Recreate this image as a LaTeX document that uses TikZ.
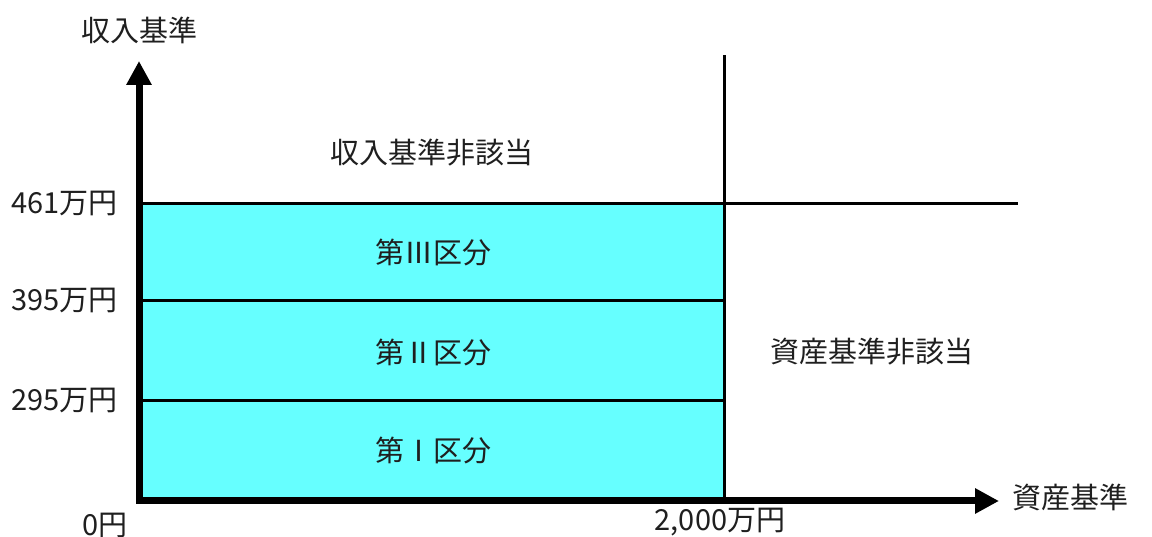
\documentclass[tikz,border=0pt]{standalone}
\usepackage{fontspec}
\setmainfont{Noto Sans CJK JP}
\usetikzlibrary{arrows.meta}

\begin{document}
\begin{tikzpicture}[x=1pt,y=1pt,
	every node/.style={font=\fontsize{29}{32}\selectfont,text=black!88,inner sep=0pt},
	axisline/.style={line width=7pt,-{Triangle[width=24pt,length=24pt]}},
	bandline/.style={line width=3pt}]
	\tikzset{bandfill/.style={fill={rgb,255:red,102;green,255;blue,255}}}
	\useasboundingbox (0,0) rectangle (1152,537);
	% coordinates of the grid
	\coordinate (origin) at (136,36);
	\coordinate (xtip) at (999,36);
	\coordinate (ybot) at (139,33);
	\coordinate (ytip) at (139,476);
	\coordinate (boxll) at (143,37);
	\coordinate (boxur) at (724,333);
	\coordinate (vtop) at (724,482);
	\coordinate (vbot) at (724,37);
	\coordinate (l461a) at (143,333);
	\coordinate (l461b) at (1018,333);
	\coordinate (l395a) at (143,236);
	\coordinate (l395b) at (724,236);
	\coordinate (l295a) at (143,136);
	\coordinate (l295b) at (724,136);
	% bands
	\path[bandfill] (boxll) rectangle (boxur);
	\draw[bandline] (l461a) -- (l461b);
	\draw[bandline] (l395a) -- (l395b);
	\draw[bandline] (l295a) -- (l295b);
	\draw[bandline] (vbot) -- (vtop);
	% axes
	\draw[axisline] (ybot) -- (ytip);
	\draw[axisline] (origin) -- (xtip);
	% labels
	\node (ylabel) at (139,507) {収入基準};
	\node[anchor=west] (xlabel) at (1012,40) {資産基準};
	\node[anchor=east] (t461) at (118,333) {461万円};
	\node[anchor=east] (t395) at (118,236) {395万円};
	\node[anchor=east] (t295) at (118,136) {295万円};
	\node[anchor=east] (t0) at (128,12) {0円};
	\node (t2000) at (720,15) {2,000万円};
	\node (incomeout) at (432,384) {収入基準非該当};
	\node (assetout) at (872,185) {資産基準非該当};
	\node (band3) at (433,285) {第Ⅲ区分};
	\node (band2) at (433,185) {第Ⅱ区分};
	\node (band1) at (433,87) {第Ⅰ区分};
\end{tikzpicture}
\end{document}
